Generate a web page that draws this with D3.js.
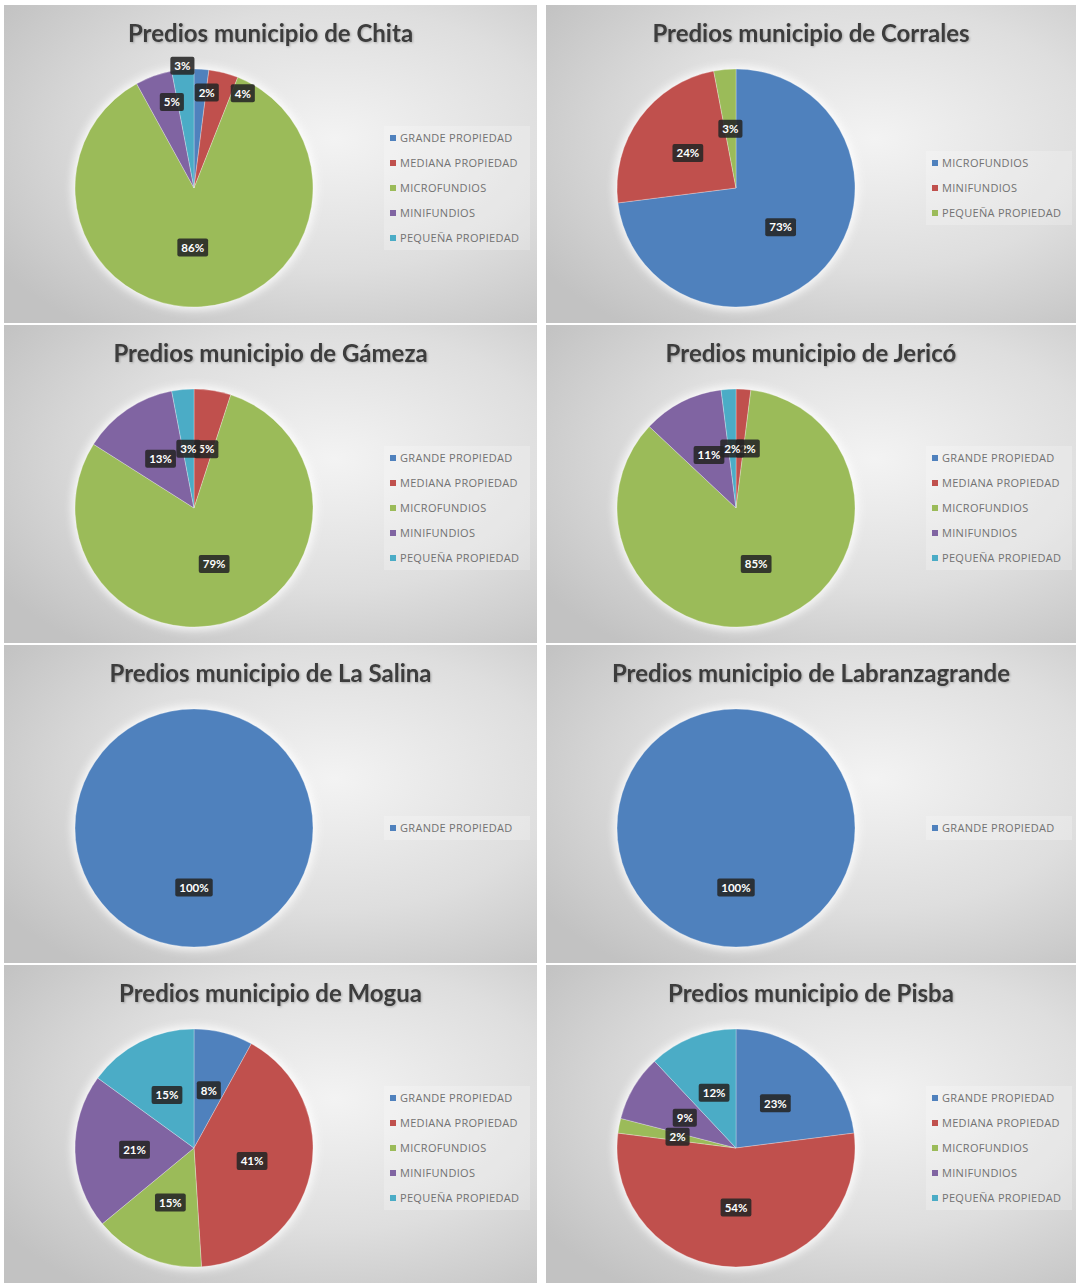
<!DOCTYPE html>
<html>
<head>
<meta charset="utf-8">
<script src="https://cdn.jsdelivr.net/npm/d3@7/dist/d3.min.js"></script>
<style>
  body { margin: 0; background: #fff; }
</style>
</head>
<body>
<div id="chart"></div>
<script>
// data (percent of predios per municipio)
let fullCategories = ["GRANDE PROPIEDAD", "MEDIANA PROPIEDAD", "MICROFUNDIOS", "MINIFUNDIOS", "PEQUEÑA PROPIEDAD"];
let corralesCategories = ["MICROFUNDIOS", "MINIFUNDIOS", "PEQUEÑA PROPIEDAD"];
let grandeOnly = ["GRANDE PROPIEDAD"];

let chitaValues = [2, 4, 86, 5, 3];
let corralesValues = [73, 24, 3];
let gamezaValues = [0, 5, 79, 13, 3];
let jericoValues = [0, 2, 85, 11, 2];
let laSalinaValues = [100];
let labranzaValues = [100];
let moguaValues = [8, 41, 15, 21, 15];
let pisbaValues = [23, 54, 2, 9, 12];

let municipios = ["Chita", "Corrales", "Gámeza", "Jericó", "La Salina", "Labranzagrande", "Mogua", "Pisba"];

let charts = [
  { name: municipios[0], cats: fullCategories, values: chitaValues },
  { name: municipios[1], cats: corralesCategories, values: corralesValues },
  { name: municipios[2], cats: fullCategories, values: gamezaValues },
  { name: municipios[3], cats: fullCategories, values: jericoValues },
  { name: municipios[4], cats: grandeOnly, values: laSalinaValues },
  { name: municipios[5], cats: grandeOnly, values: labranzaValues },
  { name: municipios[6], cats: fullCategories, values: moguaValues },
  { name: municipios[7], cats: fullCategories, values: pisbaValues }
];

// excel labels that got pushed around to avoid overlaps
let labelNudge = {
  "Chita": [[9, -36], [34, -37], [-5, 0], [-2, -30], [-6, -63]],
  "Gámeza": [[0, 0], [3, 0]],
  "Jericó": [[0, 0], [8, 0]]
};

let palette = ["#4F81BD", "#C0504D", "#9BBB59", "#8064A2", "#4BACC6"];

let svgWidth = 1077;
let svgHeight = 1283;

let panel = { width: 530, height: 318, cx: 190, cy: 183, r: 119, legendX: 386 };

let svg = d3.select("#chart")
  .append("svg")
  .attr("width", svgWidth)
  .attr("height", svgHeight);

let defs = svg.append("defs");

let grad = defs.append("radialGradient")
  .attr("id", "bg")
  .attr("cx", "62%")
  .attr("cy", "42%")
  .attr("r", "75%");
grad.append("stop").attr("offset", "0%").attr("stop-color", "#f3f3f3");
grad.append("stop").attr("offset", "55%").attr("stop-color", "#dedede");
grad.append("stop").attr("offset", "100%").attr("stop-color", "#c2c2c2");

let glow = defs.append("filter").attr("id", "glow")
  .attr("x", "-20%").attr("y", "-20%").attr("width", "140%").attr("height", "140%");
glow.append("feGaussianBlur").attr("stdDeviation", 4);

let titleShadow = defs.append("filter").attr("id", "tshadow");
titleShadow.append("feDropShadow")
  .attr("dx", 1).attr("dy", 1).attr("stdDeviation", 1)
  .attr("flood-color", "#000").attr("flood-opacity", 0.25);

let pie = d3.pie().sort(null).value(d => d);
let arc = d3.arc().innerRadius(0).outerRadius(panel.r);
let pct = d3.format(".0%");

charts.forEach(function(chart, i) {
  let col = i % 2;
  let row = Math.floor(i / 2);
  let x0 = col === 0 ? 4 : 546;
  let y0 = 5 + row * 320;
  let w0 = panel.width + (col === 0 ? 3 : 0);

  let g = svg.append("g").attr("transform", `translate(${x0}, ${y0})`);

  g.append("rect")
    .attr("width", w0)
    .attr("height", panel.height)
    .attr("fill", "url(#bg)");

  g.append("text")
    .attr("x", w0 / 2)
    .attr("y", 37)
    .attr("text-anchor", "middle")
    .attr("font-family", "Lato, 'Open Sans', sans-serif")
    .attr("font-weight", "bold")
    .attr("font-size", "24px")
    .attr("fill", "#3c3c3c")
    .attr("filter", "url(#tshadow)")
    .text(`Predios municipio de ${chart.name}`);

  let pieGroup = g.append("g").attr("transform", `translate(${panel.cx}, ${panel.cy})`);

  pieGroup.append("circle")
    .attr("r", panel.r + 3)
    .attr("fill", "#ffffff")
    .attr("opacity", 0.85)
    .attr("filter", "url(#glow)");

  let total = d3.sum(chart.values);
  let arcs = pie(chart.values);

  pieGroup.selectAll("path")
    .data(arcs)
    .enter()
    .append("path")
    .attr("d", arc)
    .attr("fill", (d, k) => palette[k])
    .attr("stroke", "rgba(255,255,255,0.35)")
    .attr("stroke-width", 0.8);

  let nudges = labelNudge[chart.name] || [];
  let labelArc = d3.arc().innerRadius(panel.r / 2).outerRadius(panel.r / 2);

  arcs.forEach(function(d, k) {
    if (d.value === 0) return;
    let c = chart.values.length === 1 ? [0, panel.r / 2] : labelArc.centroid(d);
    let n = nudges[k] || [0, 0];
    let lx = c[0] + n[0];
    let ly = c[1] + n[1];
    let label = pct(d.value / total);
    let lg = pieGroup.append("g").attr("transform", `translate(${lx}, ${ly})`);
    let t = lg.append("text")
      .attr("text-anchor", "middle")
      .attr("dy", "0.36em")
      .attr("font-family", "Lato, 'Open Sans', sans-serif")
      .attr("font-weight", "bold")
      .attr("font-size", "11.5px")
      .attr("fill", "#ffffff")
      .text(label);
    let w = t.node().getComputedTextLength();
    lg.insert("rect", "text")
      .attr("x", -w / 2 - 4)
      .attr("y", -9)
      .attr("width", w + 8)
      .attr("height", 18)
      .attr("rx", 2)
      .attr("fill", "#262626")
      .attr("opacity", 0.88);
  });

  // legend
  let n = chart.cats.length;
  let firstY = panel.cy - (n - 1) * 12.5;

  g.append("rect")
    .attr("x", panel.legendX - 6)
    .attr("y", firstY - 12)
    .attr("width", 146)
    .attr("height", (n - 1) * 25 + 24)
    .attr("fill", "#ffffff")
    .attr("opacity", 0.22);

  let legend = g.selectAll(".legend")
    .data(chart.cats)
    .enter()
    .append("g")
    .attr("transform", (d, k) => `translate(${panel.legendX}, ${firstY + k * 25})`);

  legend.append("rect")
    .attr("x", 0)
    .attr("y", -3)
    .attr("width", 6)
    .attr("height", 6)
    .attr("fill", (d, k) => palette[k]);

  legend.append("text")
    .attr("x", 10)
    .attr("dy", "0.35em")
    .attr("font-family", "'Open Sans', sans-serif")
    .attr("font-size", "11px")
    .attr("letter-spacing", "0.3px")
    .attr("fill", "#727272")
    .text(d => d);
});
</script>
</body>
</html>
